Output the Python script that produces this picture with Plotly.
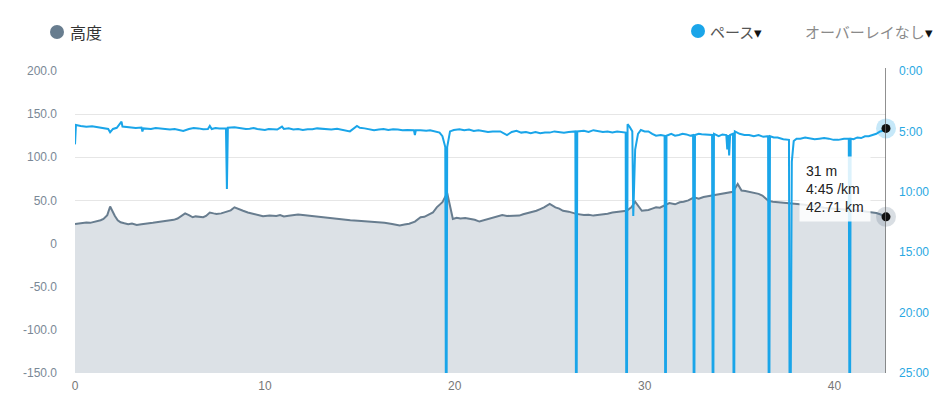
import plotly.graph_objects as go

# ---------------- data ----------------
elev_km = [0, 0.2, 0.4, 0.6, 0.8, 1.0, 1.2, 1.35, 1.5, 1.7, 1.85, 2.0, 2.1, 2.25, 2.4, 2.6,
           2.8, 3.0, 3.25, 3.5, 3.7, 3.9, 4.1, 4.35, 4.6, 4.8,
           5.0, 5.2, 5.4, 5.6, 5.8, 6.0, 6.2, 6.35, 6.5, 6.75, 6.9, 7.1, 7.3, 7.45, 7.7, 7.85,
           8.0, 8.2, 8.4, 8.6, 8.85, 9.1, 9.4, 9.65, 9.9,
           10.25, 10.6, 10.8, 11.0, 11.25, 11.5, 11.75, 12.0, 12.25, 12.5, 12.75, 13.0, 13.4,
           13.8, 14.1, 14.5, 14.9, 15.5, 15.9, 16.3, 16.7, 17.1, 17.35, 17.6, 17.9,
           18.2, 18.4, 18.6, 18.85, 19.05, 19.35, 19.6, 19.75, 19.9, 20.1, 20.3, 20.55, 20.8,
           21.05, 21.3, 21.55, 21.8, 22.1, 22.5, 22.75, 23.0,
           23.4, 23.6, 23.8, 24.05, 24.3, 24.5, 24.7, 25.0, 25.3, 25.5, 25.7, 26.0, 26.4, 26.8,
           27.05, 27.3, 27.55, 27.8, 28.05, 28.3, 28.6, 28.8, 29.05,
           29.3, 29.5, 29.85, 30.05, 30.2, 30.4, 30.6, 30.8, 31.0, 31.3, 31.6, 31.85, 32.05,
           32.3, 32.6, 32.85, 33.1, 33.35, 33.6, 33.85, 34.1,
           34.5, 34.65, 34.9, 35.1, 35.3, 35.5, 35.75, 36.0, 36.2, 36.5, 36.75, 37.0, 37.3,
           37.65, 37.9, 38.2, 38.45, 38.7, 38.95, 39.2,
           39.45, 39.7, 40.0, 40.3, 40.55, 40.8, 41.1, 41.4, 41.7, 42.0, 42.2, 42.4, 42.71]
elev_m = [22.8, 23.2, 23.5, 24.5, 24, 25, 26, 27, 28.6, 33, 43, 36, 32, 27, 24.7, 23.5,
          22.5, 23.2, 21.6, 22.3, 22.5, 23.5, 24, 24.8, 25, 25.8,
          26.6, 27.5, 29, 32, 35, 33, 30.5, 31.5, 31, 30.5, 32, 36, 35, 34.4, 35, 36,
          37, 38.5, 42, 40, 38, 36, 34.4, 33, 31.6,
          32.4, 32, 33, 31.5, 32.2, 33, 33.6, 33.2, 32.5, 32, 31.2, 30.5, 30,
          28.6, 28, 27, 26.5, 25.5, 25, 24, 22.8, 20.9, 22, 23, 25.5,
          30.5, 31, 33, 36, 42, 48, 58.7, 45, 28.6, 30, 29, 29.6, 28.6,
          27.5, 25.5, 27, 28, 30.5, 33, 32, 32,
          32.4, 34, 35, 36.5, 38, 40, 42, 46, 42, 40.5, 38, 37, 34.4, 33,
          33.5, 32.4, 33, 34, 34.5, 36, 36.8, 37.2, 38,
          42, 48.6, 38, 38.5, 39, 40.5, 42, 41.5, 44, 47, 45.5, 47.9, 48.5,
          50, 53.6, 52, 54, 55, 55.6, 56.5, 57.6,
          59, 60, 69, 61.4, 61, 60, 58.5, 57.6, 55.6, 49.8, 48.5, 48, 47.5,
          47, 46.8, 46, 45, 44, 43, 42,
          41.5, 41, 40.5, 40, 39.5, 39.4, 38.8, 38, 37, 36.3, 35.5, 34, 31]

pace_km = [0.0, 0.05, 0.3, 0.6, 0.9, 1.2, 1.5, 1.75, 1.85, 2.0, 2.2, 2.45, 2.5, 2.8, 3.2,
           3.5, 3.55, 3.6, 4.0, 4.25, 4.5, 4.75, 5.0, 5.25, 5.5, 5.7, 6.0, 6.25, 6.5, 6.75,
           7.0, 7.1, 7.2, 7.4, 7.6, 7.95,
           8.0, 8.05, 8.4, 8.6, 8.8, 9.0, 9.2, 9.4, 9.6, 9.8, 10.0, 10.2, 10.4, 10.65, 10.9,
           11.0, 11.25, 11.5, 11.75, 12.0, 12.25, 12.5, 12.75, 13.0, 13.25,
           13.5, 13.8, 14.1, 14.48, 14.85, 15.0, 15.25, 15.5, 15.75, 16.0, 16.25, 16.5, 16.75,
           17.0, 17.25, 17.5, 17.85, 17.9, 17.95, 18.2, 18.5, 18.7, 18.9,
           19.2, 19.35, 19.5, 19.55, 19.6, 19.75, 19.95, 20.25, 20.5, 20.75, 21.0, 21.25, 21.5,
           21.75, 22.0, 22.4, 22.75,
           23.0, 23.25, 23.5, 23.75, 24.0, 24.25, 24.5, 24.75, 25.0, 25.25, 25.5, 25.75, 26.0,
           26.35, 26.4, 26.45, 26.8, 27.05, 27.3, 27.55, 27.8,
           28.05, 28.3, 28.55, 28.8, 29.0, 29.05, 29.1, 29.2, 29.35, 29.4, 29.5, 29.65, 29.8,
           30.0, 30.2, 30.4, 30.6,
           30.85, 31.05, 31.1, 31.15, 31.4, 31.6, 31.8, 32.0, 32.2, 32.4, 32.55, 32.6, 32.65,
           32.85, 33.0, 33.3, 33.55, 33.6,
           33.65, 33.9, 34.1, 34.3, 34.35, 34.4, 34.45, 34.5, 34.65, 34.7, 34.75, 35.0, 35.25,
           35.5, 35.75,
           36.0, 36.25, 36.5, 36.55, 36.6, 36.8, 37.0, 37.3, 37.6, 37.65, 37.75, 37.85, 38.0,
           38.2, 38.45, 38.7, 38.95, 39.2,
           39.45, 39.7, 39.95, 40.2, 40.5, 40.75, 40.8, 40.85, 41.0, 41.2, 41.4, 41.6, 41.8,
           42.0, 42.2, 42.4, 42.55, 42.71]
pace_min = [6.07, 4.47, 4.55, 4.62, 4.58, 4.65, 4.7, 4.8, 5.08, 4.8, 4.7, 4.2, 4.6, 4.65, 4.72,
            4.68, 5.0, 4.75, 4.8, 4.72, 4.78, 4.85, 4.85, 4.8, 4.9, 4.97, 4.8, 4.72, 4.75, 4.82,
            4.8, 4.55, 4.8, 4.72, 4.75, 4.75,
            9.77, 4.7, 4.65, 4.72, 4.75, 4.8, 4.78, 4.72, 4.8, 4.85, 4.88, 4.8, 4.8, 4.85, 4.6,
            4.8, 4.75, 4.85, 4.8, 4.88, 4.82, 4.82, 4.75, 4.8, 4.85,
            4.85, 4.78, 4.9, 5.0, 4.55, 4.7, 4.75, 4.8, 4.9, 4.85, 4.8, 4.88, 4.82,
            4.85, 4.9, 4.88, 4.9, 5.3, 4.9, 4.9, 4.95, 4.9, 5.0,
            5.1, 5.4, 6.3, 40, 6.3, 5.0, 4.88, 4.82, 4.9, 4.85, 4.97, 4.9, 4.95,
            5.05, 5.0, 5.0, 5.3,
            5.05, 4.95, 5.1, 5.05, 5.15, 5.05, 5.16, 5.1, 5.1, 5.0, 5.08, 5.12, 5.05,
            5.0, 40, 5.0, 4.95, 5.05, 4.9, 5.0, 5.05,
            5.0, 5.08, 5.0, 5.06, 5.1, 40, 4.4, 4.6, 5.0, 12.0, 6.5, 5.2, 4.88,
            5.0, 5.0, 5.2, 5.36,
            5.3, 5.36, 40, 5.36, 5.2, 5.35, 5.3, 5.2, 5.25, 5.35, 5.3, 40, 5.3,
            5.2, 5.24, 5.3, 5.3, 40,
            5.2, 5.4, 5.25, 5.3, 6.5, 5.3, 7.0, 5.3, 5.2, 40, 5.0, 5.2, 5.3,
            5.3, 5.4,
            5.3, 5.45, 5.4, 40, 5.4, 5.5, 5.5, 5.65, 5.7, 40, 7.5, 5.8, 5.6,
            5.6, 5.5, 5.55, 5.65, 5.6,
            5.55, 5.6, 5.7, 5.7, 5.6, 5.6, 40, 5.6, 5.65, 5.5, 5.55, 5.4, 5.4,
            5.3, 5.2, 5.0, 4.95, 4.75]

left_ticks = [-150, -100, -50, 0, 50, 100, 150, 200]
left_labels = ["-150.0", "-100.0", "-50.0", "0", "50.0", "100.0", "150.0", "200.0"]
right_ticks = [0, 5, 10, 15, 20, 25]
right_labels = ["0:00", "5:00", "10:00", "15:00", "20:00", "25:00"]
x_ticks = [0, 10, 20, 30, 40]

cursor_km = 42.71
cursor_elev = 31
cursor_pace = 4.75
tooltip_lines = ["31 m", "4:45 /km", "42.71 km"]

# ---------------- style ----------------
PACE = "#1aa5e9"
ELEV = "#687d8f"
FILL = "#dce1e6"
FONT = "Liberation Sans, Arial, Noto Sans CJK JP, sans-serif"
JP = "Noto Sans CJK JP, sans-serif"

fig = go.Figure()

# baseline for the area fill (bottom of the axis)
fig.add_trace(go.Scatter(x=[elev_km[0], elev_km[-1]], y=[left_ticks[0], left_ticks[0]],
                         mode="lines", line=dict(width=0), hoverinfo="skip",
                         showlegend=False))
fig.add_trace(go.Scatter(x=elev_km, y=elev_m, mode="lines", fill="tonexty",
                         fillcolor=FILL, line=dict(color=ELEV, width=2),
                         showlegend=False, hoverinfo="skip"))
fig.add_trace(go.Scatter(x=pace_km, y=pace_min, yaxis="y2", mode="lines",
                         line=dict(color=PACE, width=2), showlegend=False,
                         hoverinfo="skip"))

# cursor markers
fig.add_trace(go.Scatter(x=[cursor_km], y=[cursor_elev], mode="markers",
                         marker=dict(size=20, color="rgba(104,125,143,0.25)"),
                         showlegend=False, hoverinfo="skip", cliponaxis=False))
fig.add_trace(go.Scatter(x=[cursor_km], y=[cursor_elev], mode="markers",
                         marker=dict(size=9, color="#111"),
                         showlegend=False, hoverinfo="skip", cliponaxis=False))
fig.add_trace(go.Scatter(x=[cursor_km], y=[cursor_pace], yaxis="y2", mode="markers",
                         marker=dict(size=20, color="rgba(26,165,233,0.25)"),
                         showlegend=False, hoverinfo="skip", cliponaxis=False))
fig.add_trace(go.Scatter(x=[cursor_km], y=[cursor_pace], yaxis="y2", mode="markers",
                         marker=dict(size=9, color="#111"),
                         showlegend=False, hoverinfo="skip", cliponaxis=False))

W, H = 939, 400
L, R, T, B = 75, 53, 71, 27
pw, ph = W - L - R, H - T - B

def px(xp):
    return (xp - L) / pw

def py(yp):
    return (H - B - yp) / ph

shapes = [
    dict(type="line", xref="x", yref="paper", x0=cursor_km, x1=cursor_km, y0=0, y1=1.01,
         line=dict(color="#6b6b6b", width=1.5), layer="above"),
    dict(type="circle", xref="paper", yref="paper", xsizemode="pixel", ysizemode="pixel",
         xanchor=px(57), yanchor=py(32), x0=-7, x1=7, y0=-7, y1=7,
         fillcolor=ELEV, line=dict(width=0)),
    dict(type="circle", xref="paper", yref="paper", xsizemode="pixel", ysizemode="pixel",
         xanchor=px(698), yanchor=py(31), x0=-7, x1=7, y0=-7, y1=7,
         fillcolor=PACE, line=dict(width=0)),
]

annotations = [
    dict(xref="paper", yref="paper", x=px(68), y=py(32), xanchor="left", yanchor="middle",
         text="高度", showarrow=False, font=dict(family=JP, size=16, color="#333")),
    dict(xref="paper", yref="paper", x=px(708), y=py(31), xanchor="left", yanchor="middle",
         text="ペース<span style='color:#111'>▾</span>", showarrow=False,
         font=dict(family=JP, size=15, color="#555")),
    dict(xref="paper", yref="paper", x=px(935), y=py(31), xanchor="right", yanchor="middle",
         text="オーバーレイなし<span style='color:#111'>▾</span>", showarrow=False,
         font=dict(family=JP, size=15, color="#8a8a8a")),
    dict(xref="paper", yref="paper", x=px(799), y=py(189), xanchor="left", yanchor="middle",
         text="<br>".join(tooltip_lines), showarrow=False, align="left",
         bgcolor="rgba(255,255,255,0.85)", borderpad=6,
         font=dict(family=FONT, size=14, color="#222")),
]

fig.update_layout(
    width=W, height=H,
    margin=dict(l=L, r=R, t=T, b=B, autoexpand=False),
    paper_bgcolor="white", plot_bgcolor="white",
    font=dict(family=FONT),
    showlegend=False,
    shapes=shapes, annotations=annotations,
    xaxis=dict(range=[0, cursor_km], tickvals=x_ticks, showgrid=False, zeroline=False,
               showline=False, ticks="", tickfont=dict(size=12, color="#777"),
               ticklabelstandoff=4, automargin=False),
    yaxis=dict(range=[left_ticks[0], left_ticks[-1]], tickvals=left_ticks,
               ticktext=left_labels, showgrid=True, gridcolor="#e6e6e6", gridwidth=1,
               zeroline=False, showline=False, ticks="",
               tickfont=dict(size=12, color="#7a8896"), ticklabelstandoff=17,
               automargin=False),
    yaxis2=dict(overlaying="y", side="right", range=[25, 0], tickvals=right_ticks,
                ticktext=right_labels, showgrid=False, zeroline=False, showline=False,
                ticks="", tickfont=dict(size=12, color="#2aa8e2"), ticklabelstandoff=12,
                automargin=False),
)

fig.write_html("out.html",
               config={"displayModeBar": False},
               post_script="document.body.style.margin='0';"
                           "document.body.style.overflow='hidden';")
